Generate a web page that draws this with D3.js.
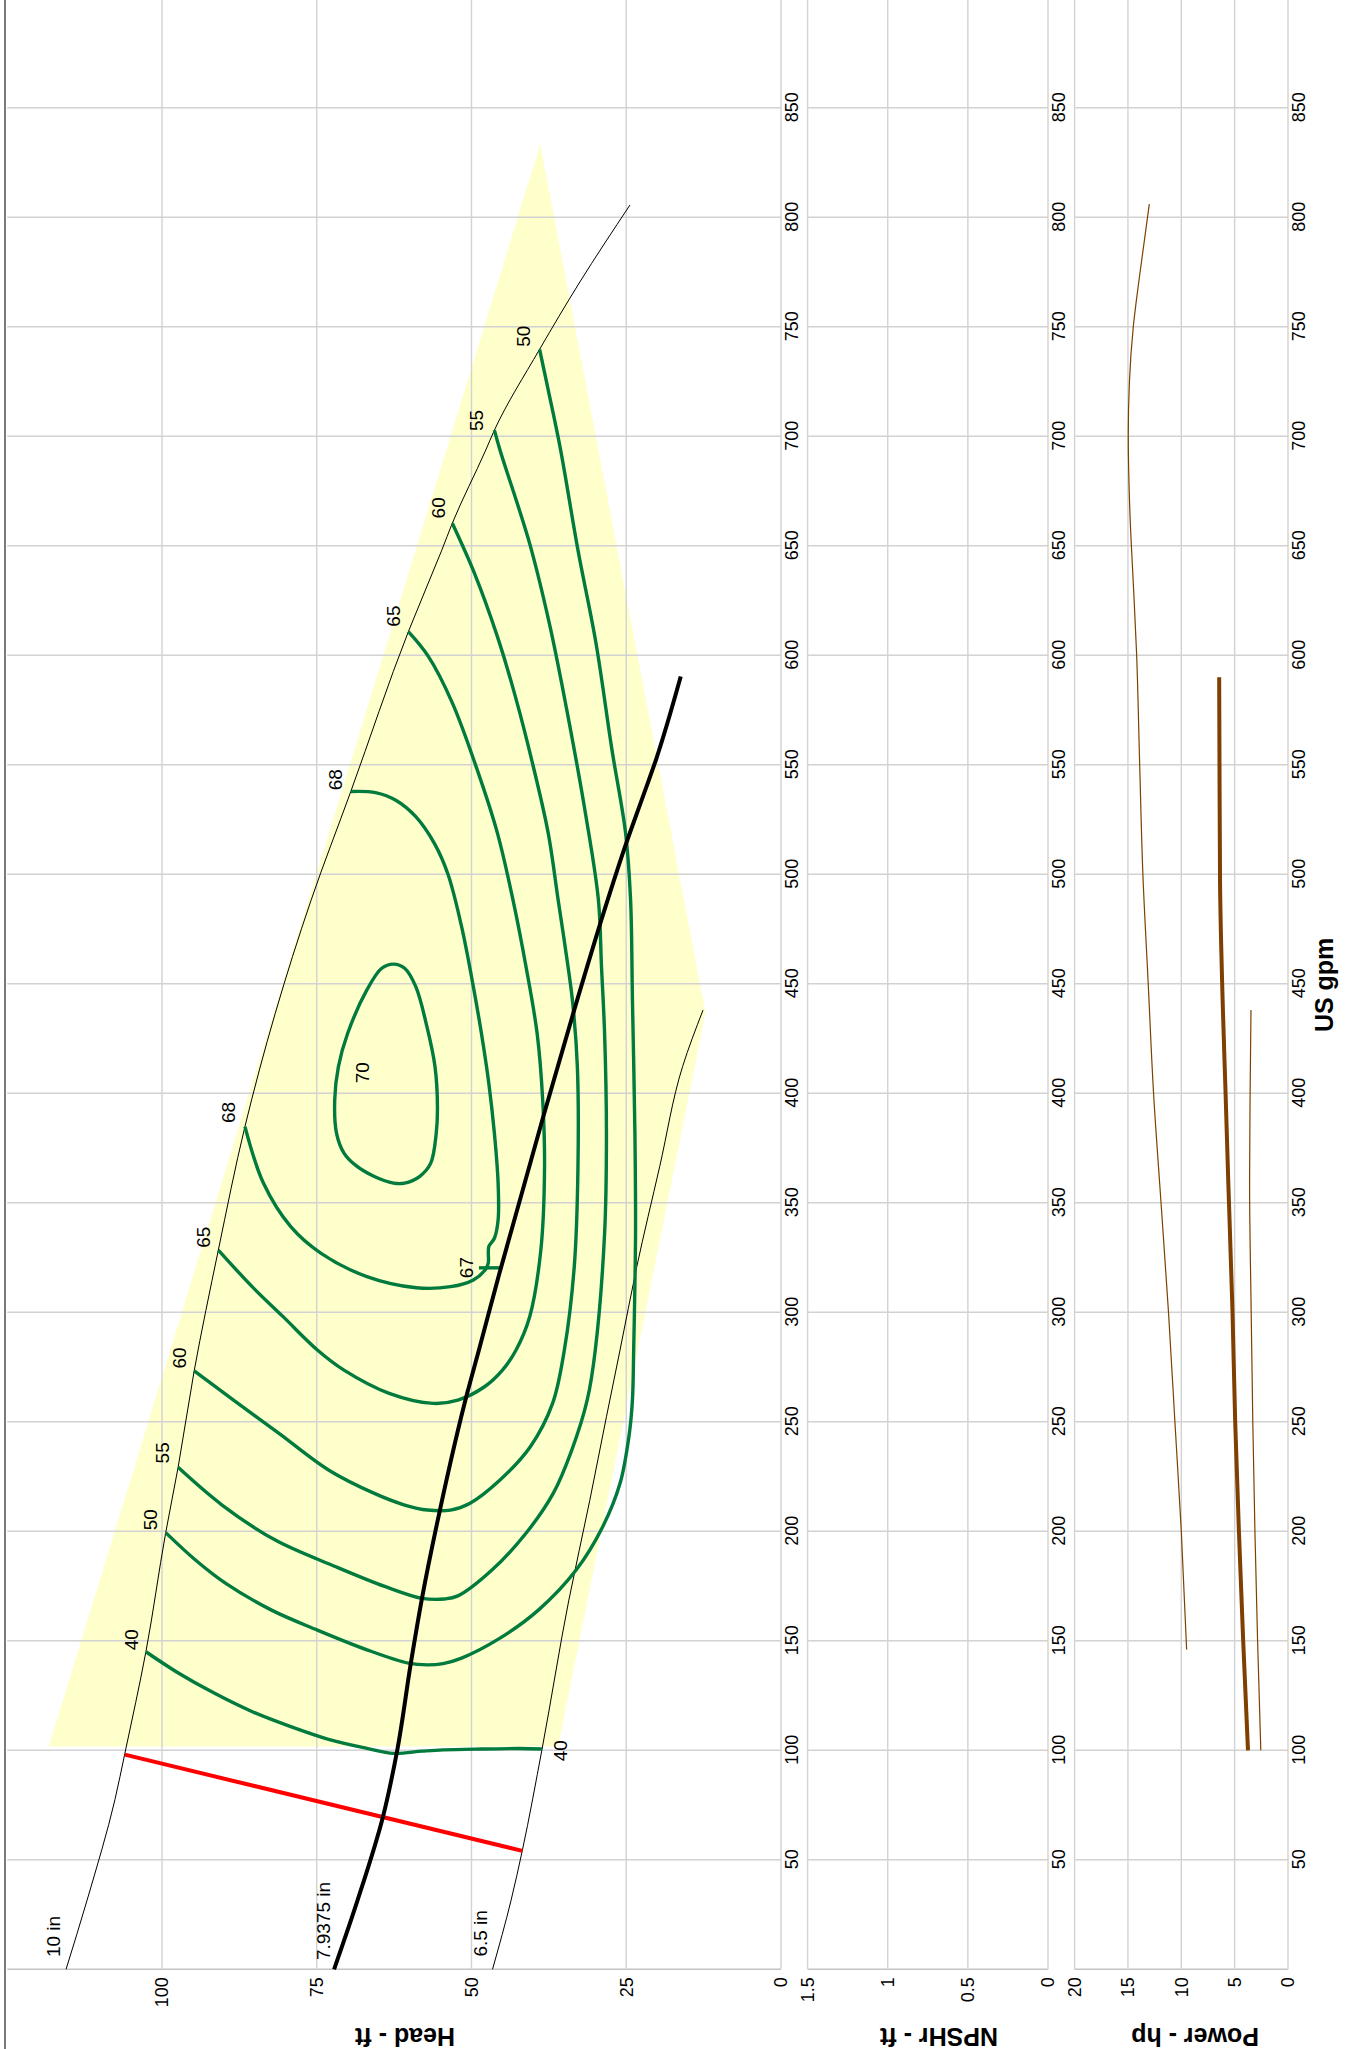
<!DOCTYPE html>
<html><head><meta charset="utf-8">
<script src="https://cdn.jsdelivr.net/npm/d3@7"></script>
<style>
html,body{margin:0;padding:0;background:#fff;}
svg{display:block;font-family:"Liberation Sans",Arial,sans-serif;}
</style></head><body>
<svg id="c" width="1363" height="2049"></svg>
<script>
// ---------- data ----------
const gpmTicks = [50,100,150,200,250,300,350,400,450,500,550,600,650,700,750,800,850];
const headTicks = [0,25,50,75,100];
const npshTicks = [0,0.5,1,1.5];
const powerTicks = [0,5,10,15,20];

// impeller head curves [gpm, ft]
const dia10 = [[0,115.5],[31.6,112.1],[77.5,107.6],[98.6,106.0],[145,102.6],[199.4,99.4],[229.2,97.4],[273.3,94.8],[328.4,90.9],[384.8,86.6],[488.3,75.9],[537.8,69.5],[610.8,60.2],[648,54.8],[660.3,53.1],[693.7,47.7],[702.8,46.3],[739.7,39.0],[770,32.6],[805.6,24.4]];
const dia79 = [[0,72.2],[31.6,68.4],[69.7,64.3],[100,62.0],[139.8,59.8],[169.4,58.0],[209.7,55.1],[263,50.7],[282.8,48.8],[317.7,45.5],[389.4,38.4],[438.1,33.4],[488.3,28.0],[514.2,25.0],[534,22.5],[552.3,20.2],[590.3,16.2]];
const dia65 = [[0,46.6],[31.6,43.6],[54.1,41.8],[100.6,38.6],[168.2,34.3],[214,30.9],[252.3,28.2],[282.8,26.0],[320.8,23.3],[366.5,19.6],[412.2,15.9],[438,12.6]];
const minFlow = [[98,106.0],[54.1,41.8]];
const porArea = [[101.7,118.3],[833.5,38.9],[436.8,12.2],[101.7,36.0]];

// efficiency contours [gpm, ft]
const eff40 = [[145,102.6],[135.9,97.7],[126,91.5],[117.6,85.4],[110.8,79.2],[105,73.1],[100.9,66.9],[98.6,62.6],[99.6,58],[100.2,54.6],[100.6,48.4],[100.8,42.3],[100.6,38.6]];
const eff50 = [[199.4,99.4],[186.9,94.6],[176.2,89.7],[164,82.3],[154.9,74.9],[145.9,66.9],[139.8,60.2],[139,57.1],[139.6,54.6],[142.1,51.6],[151.2,45.4],[164,39.2],[182.3,33.1],[202.1,28.8],[221.9,26.0],[244.7,24.5],[260,24.0],[282.8,23.8],[336,23.5],[381.7,23.6],[442.6,24.0],[488.3,24.3],[518.7,25.1],[556.7,27.3],[605.7,29.9],[648,32.8],[693.7,35.6],[721.1,37.6],[739.7,39.0]];
const eff55 = [[229.2,97.4],[212,90.3],[196,81.7],[183.8,71.9],[174.7,63.9],[169.4,58.0],[169.1,54.4],[170.5,52.2],[182.3,46.7],[199.1,41.2],[217.3,36.8],[237.1,33.8],[260,31.3],[282.8,30.0],[336,28.5],[381.7,28.2],[427.4,28.5],[457.9,29.0],[488.3,29.5],[526.3,31.5],[572,34.4],[613,37.3],[651,40.6],[693.7,45.4],[702.8,46.3]];
const eff60 = [[273.3,94.8],[260,88.5],[244.7,81.1],[228,73.1],[217.3,65.7],[212,60.8],[209.7,57.1],[209.7,53.4],[212.7,50.3],[223.4,45.4],[238.6,40.5],[258.4,36.9],[282.8,35.0],[320.8,33.4],[366.5,32.8],[412.2,32.9],[442.6,33.7],[465.5,34.8],[488.3,36.0],[518.7,37.6],[549,40.0],[581,42.9],[608.4,45.8],[637.3,49.5],[660.3,53.1]];
const eff65 = [[328.4,90.9],[311.6,85.4],[297.9,80.4],[282.8,74.9],[273.6,70.6],[263,63.3],[258.4,56.2],[259.9,52.2],[266,47.9],[273.6,45.0],[282.8,42.8],[298,40.6],[328.4,38.8],[366.5,38.2],[397,38.5],[427.4,39.4],[457.9,41.2],[488.3,43.3],[518.7,45.8],[547.9,49.1],[578.3,53.1],[599.6,57.0],[610.8,60.2]];
const eff68 = [[384.8,86.6],[358.9,83.6],[339.1,79.2],[326.9,74.3],[316.3,66.9],[311.2,58.9],[311.7,53.4],[314.8,49.7],[319.3,47.8],[322.3,47.3],[330,47.2],[333.8,46.3],[342.2,45.7],[358.9,45.7],[381.7,46.3],[404.5,47.2],[427.4,48.4],[450.2,49.8],[476.1,51.6],[500,53.8],[514.1,56.0],[526.3,59.0],[533.6,62.1],[537.3,65.5],[537.8,69.5]];
const eff70 = [[459,62.6],[457.1,60.8],[448.7,59.0],[430.4,57.2],[412.2,55.9],[394,55.5],[381.7,55.7],[368,56.6],[362,58.4],[359,60.8],[359,62.6],[362,65.7],[367.3,68.8],[372.7,70.6],[381.7,71.8],[396.9,72.1],[412.2,71.5],[427.4,70.0],[447.2,66.9],[457.1,64.5]];
const tick67 = [[320.3,48.8],[320.3,45.4]];

// labels: [text, gpm, ft]
const effLabels = [["40",145.7,103.9],["50",200.5,100.8],["55",231,98.9],["60",274.3,96.2],["65",329.5,92.3],["68",386.4,88.2],["68",538.4,70.9],["65",613.1,61.6],["60",662.5,54.3],["55",702.4,48.1],["50",740.9,40.5],["70",404.6,66.5],["67",315.6,49.8]];
const endLabels = [["40",99.8,34.6]];
const diaLabels = [["10 in",5.6,116.5],["7.9375 in",4.2,72.9],["6.5 in",5.8,47.5]];

// power curves [gpm, hp]
const pow10 = [[146,9.5],[200,10.0],[250,10.6],[300,11.2],[350,11.9],[400,12.6],[450,13.1],[500,13.6],[550,13.9],[602,14.2],[633,14.5],[663,14.8],[700,14.97],[724,14.87],[750,14.5],[770,14.0],[806,13.0]];
const pow79 = [[100,3.75],[150,4.2],[200,4.6],[250,4.95],[300,5.2],[360,5.6],[400,5.85],[438,6.1],[497,6.37],[550,6.42],[590,6.45]];
const pow65 = [[100,2.55],[150,2.85],[200,3.1],[250,3.3],[300,3.45],[360,3.6],[400,3.55],[438,3.47]];

// ---------- drawing ----------
const svg = d3.select("#c");
// left frame
svg.append("line").attr("x1",5).attr("x2",5).attr("y1",0).attr("y2",2049)
   .attr("stroke","#7a7a7a").attr("stroke-width",2);

const g = svg.append("g").attr("transform","translate(0,2049) rotate(-90)");

const x  = d3.scaleLinear().domain([0,900]).range([79.7,2050.7]);
const yH = d3.scaleLinear().domain([0,125]).range([781,7.25]);
const yN = d3.scaleLinear().domain([0,1.5]).range([1048,807.6]);
const yP = d3.scaleLinear().domain([0,20]).range([1288,1074.6]);

const GRID = "#d2d2d2";

// POR area (under grid)
g.append("path").datum(porArea)
  .attr("d", d3.line().x(d=>x(d[0])).y(d=>yH(d[1])).curve(d3.curveLinearClosed))
  .attr("fill","#ffffcc").attr("stroke","none");

function grid(yScale, ticks, yTop, yBot){
  const gg = g.append("g");
  gg.selectAll(".v").data(gpmTicks).join("line")
    .attr("x1",d=>x(d)).attr("x2",d=>x(d)).attr("y1",yTop).attr("y2",yBot)
    .attr("stroke",GRID).attr("stroke-width",1.4);
  gg.append("line").attr("x1",x(0)).attr("x2",x(0)).attr("y1",yTop).attr("y2",yBot)
    .attr("stroke","#c4c4c4").attr("stroke-width",1.6);
  gg.selectAll(".h").data(ticks).join("line")
    .attr("x1",x(0)).attr("x2",x(900)).attr("y1",d=>yScale(d)).attr("y2",d=>yScale(d))
    .attr("stroke",GRID).attr("stroke-width",1.4);
}
grid(yH, headTicks, yH(125), yH(0));
grid(yN, npshTicks, yN(1.5), yN(0));
grid(yP, powerTicks, yP(20), yP(0));

// axes
function styleAxis(a){
  a.select(".domain").remove();
  a.selectAll("text").attr("font-size",18).attr("font-family","'Liberation Sans',Arial,sans-serif").attr("fill","#000");
}
styleAxis(g.append("g").attr("transform",`translate(${x(0)},0)`).call(d3.axisLeft(yH).tickValues(headTicks).tickSize(0).tickPadding(8).tickFormat(d3.format("d"))));
styleAxis(g.append("g").attr("transform",`translate(${x(0)},0)`).call(d3.axisLeft(yN).tickValues(npshTicks).tickSize(0).tickPadding(8).tickFormat(d=>String(d))));
styleAxis(g.append("g").attr("transform",`translate(${x(0)},0)`).call(d3.axisLeft(yP).tickValues(powerTicks).tickSize(0).tickPadding(8).tickFormat(d3.format("d"))));
[yH(0), yN(0), yP(0)].forEach(yy=>{
  styleAxis(g.append("g").attr("transform",`translate(0,${yy})`).call(d3.axisBottom(x).tickValues(gpmTicks).tickSize(0).tickPadding(4).tickFormat(d3.format("d"))));
});

// axis titles
function title(txt, tx, ty, rot){
  g.append("text").attr("transform",`translate(${tx},${ty}) rotate(${rot})`)
    .attr("text-anchor","middle").attr("font-size",25).attr("font-weight","bold")
    .attr("fill","#000").text(txt);
}
title("Head - ft", 21.5, 405, -90);
title("NPSHr - ft", 21.5, 939, -90);
title("Power - hp", 21.5, 1195, -90);
title("US gpm", x(449.5), 1333, 0);

// head curves
const lineH = c => d3.line().x(d=>x(d[0])).y(d=>yH(d[1])).curve(c);
const mono = d3.curveMonotoneX, cr = d3.curveCatmullRom.alpha(0.5);

g.append("path").datum(dia10).attr("d",lineH(mono)).attr("fill","none").attr("stroke","#000").attr("stroke-width",1);
g.append("path").datum(dia65).attr("d",lineH(mono)).attr("fill","none").attr("stroke","#000").attr("stroke-width",1);

const GREEN = "#007a3d";
[eff40,eff50,eff55,eff60,eff65,eff68].forEach(c=>{
  g.append("path").datum(c).attr("d",lineH(cr)).attr("fill","none")
   .attr("stroke",GREEN).attr("stroke-width",3.4).attr("stroke-linejoin","round");
});
g.append("path").datum(eff70).attr("d",lineH(d3.curveCatmullRomClosed.alpha(0.5))).attr("fill","none")
  .attr("stroke",GREEN).attr("stroke-width",3.4);
g.append("path").datum(tick67).attr("d",lineH(d3.curveLinear)).attr("fill","none")
  .attr("stroke",GREEN).attr("stroke-width",3.4);

g.append("path").datum(minFlow).attr("d",lineH(d3.curveLinear)).attr("fill","none").attr("stroke","#ff0000").attr("stroke-width",4);
g.append("path").datum(dia79).attr("d",lineH(mono)).attr("fill","none").attr("stroke","#000").attr("stroke-width",4);

// power curves
const lineP = d3.line().x(d=>x(d[0])).y(d=>yP(d[1])).curve(mono);
const BROWN = "#7f3f00";
g.append("path").datum(pow10).attr("d",lineP).attr("fill","none").attr("stroke",BROWN).attr("stroke-width",1.2);
g.append("path").datum(pow65).attr("d",lineP).attr("fill","none").attr("stroke",BROWN).attr("stroke-width",1.2);
g.append("path").datum(pow79).attr("d",lineP).attr("fill","none").attr("stroke",BROWN).attr("stroke-width",4);

// labels
const lab = g.append("g").attr("font-size",19).attr("fill","#000");
lab.selectAll(".e").data(effLabels).join("text")
  .attr("x",d=>x(d[1])).attr("y",d=>yH(d[2])).text(d=>d[0]);
lab.selectAll(".n").data(endLabels).join("text").attr("text-anchor","middle")
  .attr("x",d=>x(d[1])).attr("y",d=>yH(d[2])).text(d=>d[0]);
lab.selectAll(".d").data(diaLabels).join("text")
  .attr("x",d=>x(d[1])).attr("y",d=>yH(d[2])).text(d=>d[0]);
</script>
</body></html>
